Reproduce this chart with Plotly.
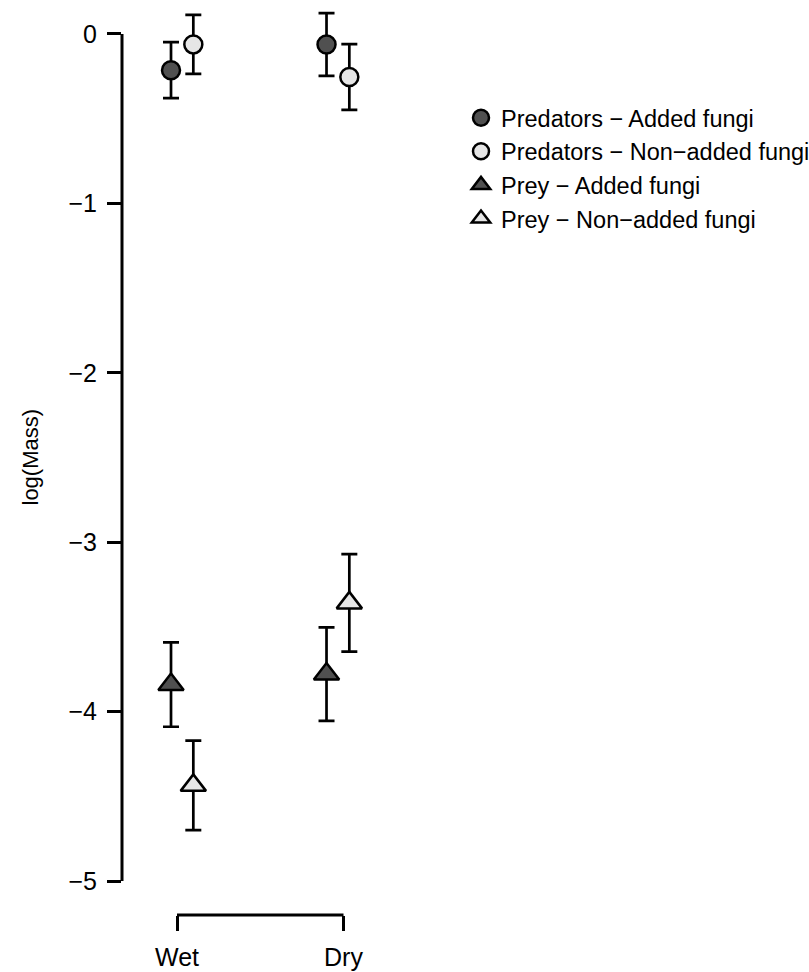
import plotly.graph_objects as go

# Categories / tick labels
categories = ["Wet", "Dry"]
cat_positions = [1, 2]
y_ticks = [0, -1, -2, -3, -4, -5]

# Series (x positions slightly dodged around category centers)
series_names = [
    "Predators \u2212 Added fungi",
    "Predators \u2212 Non\u2212added fungi",
    "Prey \u2212 Added fungi",
    "Prey \u2212 Non\u2212added fungi",
]
pred_added_x = [0.964, 1.898]
pred_added_y = [-0.214, -0.063]
pred_added_err = [0.165, 0.185]

pred_non_x = [1.098, 2.035]
pred_non_y = [-0.062, -0.255]
pred_non_err = [0.174, 0.194]

prey_added_x = [0.964, 1.898]
prey_added_y = [-3.840, -3.778]
prey_added_err = [0.249, 0.276]

prey_non_x = [1.098, 2.035]
prey_non_y = [-4.435, -3.358]
prey_non_err = [0.264, 0.288]

DARK = "#505050"
LIGHT = "#e6e6e6"
FONT = "Liberation Sans, Arial, Helvetica, sans-serif"

fig = go.Figure()

specs = [
    (pred_added_x, pred_added_y, pred_added_err, "circle", DARK, 18, series_names[0]),
    (pred_non_x, pred_non_y, pred_non_err, "circle", LIGHT, 18, series_names[1]),
    (prey_added_x, prey_added_y, prey_added_err, "triangle-up", DARK, 22, series_names[2]),
    (prey_non_x, prey_non_y, prey_non_err, "triangle-up", LIGHT, 22, series_names[3]),
]
for i, (xs, ys, es, sym, col, sz, name) in enumerate(specs):
    fig.add_trace(go.Scatter(
        x=xs, y=ys, mode="markers", name=name,
        marker=dict(symbol=sym, color=col, size=sz, line=dict(color="black", width=2.5)),
        error_y=dict(type="data", array=es, visible=True, color="black", thickness=2.7, width=8),
        cliponaxis=False,
    ))

W, H = 809, 972
ML, MR, MT, MB = 122, 0, 0, 57
px_per_unit = 166.5
x_left = 1 - (177 - ML) / px_per_unit
x_right = x_left + (W - ML - MR) / px_per_unit

fig.update_layout(
    width=W, height=H,
    margin=dict(l=ML, r=MR, t=MT, b=MB, autoexpand=False),
    paper_bgcolor="white", plot_bgcolor="white",
    font=dict(family=FONT, size=22, color="black"),
    showlegend=True,
    legend=dict(
        x=(461 - ML) / (W - ML), y=(915 - 96) / 915, xanchor="left", yanchor="top",
        font=dict(family=FONT, size=23.5, color="black"),
        bgcolor="rgba(0,0,0,0)", borderwidth=0,
        traceorder="normal",
    ),
    xaxis=dict(
        range=[x_left, x_right], showgrid=False, zeroline=False, showline=False,
        tickmode="array", tickvals=cat_positions, ticktext=categories,
        ticks="outside", ticklen=15, tickwidth=3, tickcolor="black",
        ticklabelstandoff=5, tickfont=dict(family=FONT, size=25, color="black"),
    ),
    yaxis=dict(
        range=[-5.2, 0.2], showgrid=False, zeroline=False, showline=False,
        tickmode="array", tickvals=y_ticks,
        ticks="outside", ticklen=14, tickwidth=3, tickcolor="black",
        ticklabelstandoff=5, tickfont=dict(family=FONT, size=25, color="black"),
    ),
)

# R-style axis lines spanning only the first to last tick
fig.add_shape(type="line", xref="paper", yref="y", x0=0, x1=0,
              y0=min(y_ticks), y1=max(y_ticks), line=dict(color="black", width=3))
fig.add_shape(type="line", xref="x", yref="paper", x0=min(cat_positions), x1=max(cat_positions),
              y0=0, y1=0, line=dict(color="black", width=3))

fig.add_annotation(
    text="log(Mass)", xref="paper", yref="paper",
    x=(30 - ML) / (W - ML), y=0.5, xanchor="center", yanchor="middle",
    textangle=-90, showarrow=False, font=dict(family=FONT, size=22, color="black"),
)

fig.write_html("out.html")
